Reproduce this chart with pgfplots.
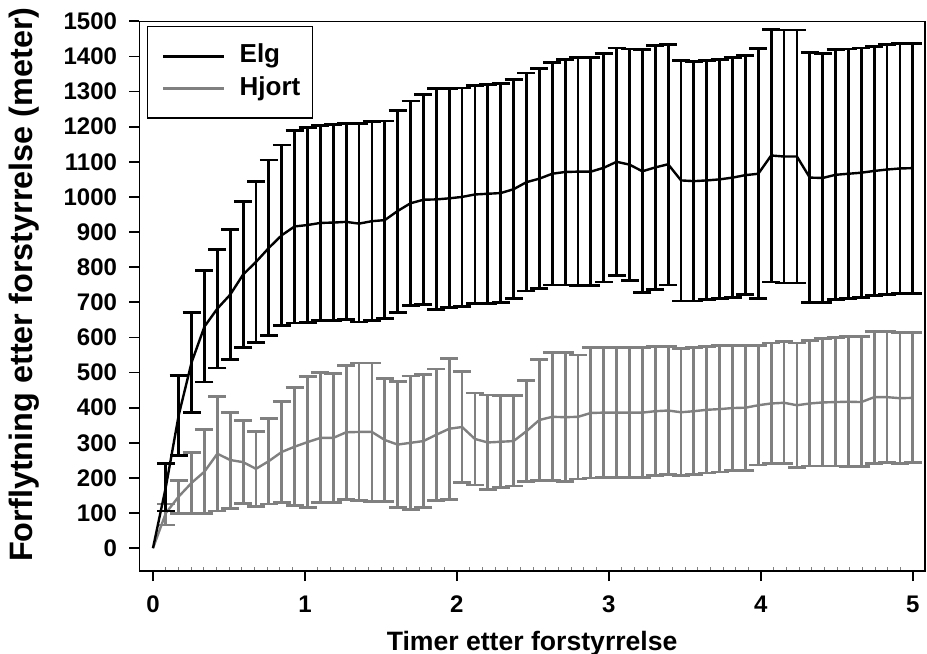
\documentclass[border=0pt]{standalone}
\usepackage{fontspec}
\setmainfont{Liberation Sans}
\usepackage{pgfplots}
\pgfplotsset{compat=1.18}
\usepackage{pgfplotstable}
\definecolor{hjort}{RGB}{128,128,128}

% t = timer; em/eh/el = elg middel/øvre/nedre; hm/hh/hl = hjort
\pgfplotstableread{
t      em   eh   el   hm  hh  hl
0      0    0    0    0   0   0
0.0847 174  242  106  100 126 66
0.1695 379  492  265  147 192 99
0.2542 529  671  387  186 273 99
0.3390 631  790  473  218 338 99
0.4237 682  850  513  269 432 106
0.5085 722  907  537  251 386 113
0.5932 779  987  571  245 364 128
0.6780 815  1044 586  226 333 118
0.7627 855  1105 606  248 369 126
0.8475 891  1148 634  274 417 131
0.9322 916  1190 641  289 458 121
1.0169 920  1197 643  302 488 116
1.1017 926  1204 648  314 500 129
1.1864 927  1206 648  314 498 131
1.2712 929  1208 651  330 520 139
1.3559 924  1210 644  331 527 136
1.4407 931  1214 648  331 527 134
1.5254 934  1216 653  308 483 133
1.6102 960  1246 672  295 475 116
1.6949 982  1273 692  300 490 111
1.7797 992  1291 694  305 495 116
1.8644 993  1308 679  323 510 136
1.9492 996  1308 685  340 540 139
2.0339 1000 1310 689  345 503 187
2.1186 1007 1318 697  311 442 180
2.2034 1009 1321 697  301 436 167
2.2881 1011 1323 699  303 434 172
2.3729 1022 1335 710  305 434 177
2.4576 1042 1353 732  333 477 190
2.5424 1052 1366 740  365 537 192
2.6271 1066 1382 749  374 556 192
2.7119 1071 1392 749  373 556 190
2.7966 1072 1396 747  374 550 197
2.8814 1072 1396 747  385 571 200
2.9661 1083 1409 758  386 571 202
3.0508 1100 1424 776  386 571 202
3.1356 1092 1421 763  386 571 202
3.2203 1073 1419 727  386 571 202
3.3051 1084 1431 737  390 574 207
3.3898 1093 1434 749  392 574 210
3.4746 1047 1389 704  387 568 207
3.5593 1045 1386 704  390 571 210
3.6441 1047 1389 707  394 574 214
3.7288 1050 1392 710  396 576 217
3.8136 1055 1396 714  399 576 222
3.8983 1062 1402 722  400 578 222
3.9831 1066 1422 710  407 578 237
4.0678 1118 1477 758  412 584 240
4.1525 1115 1475 755  414 588 240
4.2373 1115 1475 755  407 584 230
4.3220 1055 1411 700  412 591 234
4.4068 1054 1409 700  415 596 234
4.4915 1063 1419 707  416 599 234
4.5763 1066 1421 710  417 603 232
4.6610 1069 1424 714  416 603 232
4.7458 1074 1429 719  430 618 242
4.8305 1078 1434 722  430 616 244
4.9153 1081 1436 724  427 613 242
5.0000 1082 1436 725  428 613 244
}\data

\begin{document}
\begin{tikzpicture}
\path[use as bounding box] (-69.65pt,-41pt) rectangle (393.9pt,285.55pt);
\begin{axis}[
    at={(0,0)}, anchor=south west,
    width=392.9pt, height=274.9pt, scale only axis,
    xmin=-0.09, xmax=5.08,
    ymin=-65, ymax=1500,
    xtick={0,1,2,3,4,5},
    ytick={0,100,...,1500},
    minor x tick num=11,
    minor tick length=2pt,
    minor x tick style={line width=0.3pt, gray, yshift=2pt},
    tick align=outside,
    xtick pos=bottom, ytick pos=left,
    major tick length=5pt,
    major tick style={black, line width=0.9pt},
    axis line style={line width=0.6pt},
    /pgf/number format/assume math mode=true,
    /pgf/number format/1000 sep={},
    xticklabel style={font=\bfseries\fontsize{12}{14}\selectfont},
    yticklabel style={font=\bfseries\fontsize{12}{14}\selectfont},
    xticklabel shift=3.7pt,
    yticklabel shift=2.6pt,
    xlabel={Timer etter forstyrrelse},
    ylabel={Forflytning etter forstyrrelse (meter)},
    xlabel style={font=\bfseries\fontsize{13.3}{15}\selectfont,
        at={(axis description cs:0.5,-0.132)}, anchor=center},
    ylabel style={font=\bfseries\fontsize{16.2}{18}\selectfont,
        at={(axis description cs:-0.1468,0.521)}, anchor=center},
    legend style={at={(axis description cs:0,1)}, anchor=north west,
        xshift=3.7pt, yshift=-2.5pt, draw=black, line width=0.6pt,
        font=\bfseries\fontsize{13}{15}\selectfont,
        inner xsep=6pt, inner ysep=8.5pt, row sep=4.2pt,
        nodes={inner sep=0pt, text height=9.4pt, text depth=2.8pt}},
    legend cell align=left,
    reverse legend,
    legend image code/.code={\draw[#1, line width=1.5pt] (1.5pt,0pt) -- (32pt,0pt);
        \path (0pt,0pt) (39pt,0pt);},
]
% hjort
\addplot[draw=none, mark=none, forget plot,
    skip coords between index={0}{1},
    error bars/.cd, y dir=both, y explicit,
    error bar style={draw=hjort, line width=1.4pt},
    error mark options={draw=hjort, line width=1.4pt, mark size=4.5pt, rotate=90}]
    table[x=t, y=hm, y error plus expr=\thisrow{hh}-\thisrow{hm},
          y error minus expr=\thisrow{hm}-\thisrow{hl}] {\data};
\addplot[hjort, mark=none, line width=1.2pt] table[x=t, y=hm] {\data};
\addlegendentry{Hjort}
% elg
\addplot[draw=none, mark=none, forget plot,
    skip coords between index={0}{1},
    error bars/.cd, y dir=both, y explicit,
    error bar style={draw=black, line width=1.4pt},
    error mark options={draw=black, line width=1.4pt, mark size=4.5pt, rotate=90}]
    table[x=t, y=em, y error plus expr=\thisrow{eh}-\thisrow{em},
          y error minus expr=\thisrow{em}-\thisrow{el}] {\data};
\addplot[black, mark=none, line width=1.2pt] table[x=t, y=em] {\data};
\addlegendentry{Elg}
\end{axis}
\end{tikzpicture}
\end{document}
